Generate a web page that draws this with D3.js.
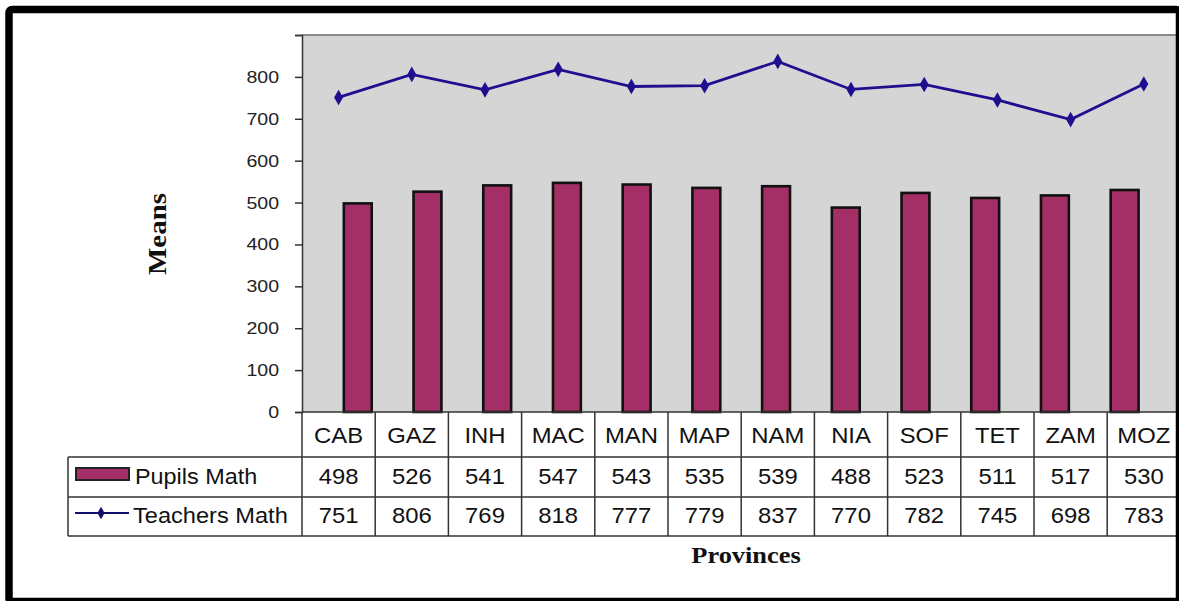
<!DOCTYPE html>
<html>
<head>
<meta charset="utf-8">
<script src="https://cdn.jsdelivr.net/npm/d3@7"></script>
<style>
  html, body { margin: 0; padding: 0; background: #fff; }
  svg { display: block; }
</style>
</head>
<body>
<svg id="chart" width="1179" height="601"></svg>
<script>
// Province codes (columns of the data table)
const provinces = ["CAB", "GAZ", "INH", "MAC", "MAN", "MAP", "NAM", "NIA", "SOF", "TET", "ZAM", "MOZ"];
// Mean mathematics scores
const pupilsMath = [498, 526, 541, 547, 543, 535, 539, 488, 523, 511, 517, 530];
const teachersMath = [751, 806, 769, 818, 777, 779, 837, 770, 782, 745, 698, 783];
// Y axis
const yTicks = [0, 100, 200, 300, 400, 500, 600, 700, 800, 900];
const yTickLabels = ["0", "100", "200", "300", "400", "500", "600", "700", "800", ""];
const seriesNames = ["Pupils Math", "Teachers Math"];
const xTitle = "Provinces";
const yTitle = "Means";

const svg = d3.select("#chart");
const plotLeft = 302, plotTop = 35, plotBottom = 412, colStep = 73.2;
const plotRight = plotLeft + colStep * provinces.length;
const barColor = "#a32f66", lineColor = "#1f0f8f", gridInk = "#333";
const sans = "'Liberation Sans', Arial, sans-serif";
const serif = "'Liberation Serif', 'Times New Roman', serif";

const x = d3.scaleBand().domain(provinces).range([plotLeft, plotRight]).padding(0.6);
const xCol = d3.scaleBand().domain(provinces).range([plotLeft, plotRight]).padding(0);
const y = d3.scaleLinear().domain([0, 900]).range([plotBottom, plotTop]);

// text helper with slight horizontal widening
function label(g, str, px, py, opts) {
  const o = Object.assign({size: 22.5, anchor: "middle", sx: 1.06, family: sans, weight: "normal", fill: "#111"}, opts || {});
  return g.append("text")
    .attr("transform", `translate(${px},${py}) scale(${o.sx},1)`)
    .attr("text-anchor", o.anchor)
    .attr("font-family", o.family)
    .attr("font-size", o.size)
    .attr("font-weight", o.weight)
    .attr("fill", o.fill)
    .text(str);
}

// plot background
svg.append("rect")
  .attr("x", plotLeft).attr("y", plotTop)
  .attr("width", plotRight - plotLeft).attr("height", plotBottom - plotTop)
  .attr("fill", "#d5d5d5");
svg.append("line")
  .attr("x1", plotLeft).attr("x2", plotRight)
  .attr("y1", plotTop).attr("y2", plotTop)
  .attr("stroke", "#8a8a8a").attr("stroke-width", 2);

// bars
svg.append("g").selectAll("rect")
  .data(pupilsMath)
  .join("rect")
  .attr("x", (d, i) => x(provinces[i]))
  .attr("y", d => y(d))
  .attr("width", x.bandwidth())
  .attr("height", d => y(0) - y(d))
  .attr("fill", barColor)
  .attr("stroke", "#111")
  .attr("stroke-width", 2.6);

// teachers line
const cx = (i) => xCol(provinces[i]) + xCol.bandwidth() / 2;
svg.append("path")
  .datum(teachersMath)
  .attr("d", d3.line().x((d, i) => cx(i)).y(d => y(d)))
  .attr("fill", "none")
  .attr("stroke", lineColor)
  .attr("stroke-width", 2.8);
svg.append("g").selectAll("path")
  .data(teachersMath)
  .join("path")
  .attr("transform", (d, i) => `translate(${cx(i)},${y(d)})`)
  .attr("d", d3.symbol(d3.symbolDiamond, 70))
  .attr("fill", lineColor);

// y axis
const yAxis = d3.axisLeft(y).tickValues(yTicks).tickSize(7).tickFormat("");
const ag = svg.append("g").attr("transform", `translate(${plotLeft},0)`).call(yAxis);
ag.select(".domain").attr("stroke", gridInk).attr("stroke-width", 1.5);
ag.selectAll(".tick line").attr("stroke", gridInk).attr("stroke-width", 1.5);
const tl = svg.append("g");
yTicks.forEach((t, i) => {
  if (yTickLabels[i]) label(tl, yTickLabels[i], 279, y(t) + 6, {size: 17, anchor: "end", sx: 1.15, fill: "#222"});
});

// data table
const rowTop = plotBottom, row1 = 457, row2 = 497, row3 = 536, legendLeft = 68;
const tg = svg.append("g").attr("stroke", gridInk).attr("stroke-width", 1.5);
tg.append("line").attr("x1", plotLeft).attr("x2", plotRight).attr("y1", rowTop).attr("y2", rowTop);
[row1, row2, row3].forEach(ry =>
  tg.append("line").attr("x1", legendLeft).attr("x2", plotRight).attr("y1", ry).attr("y2", ry));
tg.append("line").attr("x1", legendLeft).attr("x2", legendLeft).attr("y1", row1).attr("y2", row3);
provinces.forEach(p =>
  tg.append("line").attr("x1", xCol(p)).attr("x2", xCol(p)).attr("y1", rowTop).attr("y2", row3));

const txt = svg.append("g");
provinces.forEach((p, i) => {
  label(txt, p, cx(i), 443);
  label(txt, pupilsMath[i], cx(i), 484);
  label(txt, teachersMath[i], cx(i), 523);
});

// legend keys inside the table
svg.append("rect")
  .attr("x", 76).attr("y", 468).attr("width", 53).attr("height", 12)
  .attr("fill", barColor).attr("stroke", "#222").attr("stroke-width", 2);
label(txt, seriesNames[0], 135, 484, {anchor: "start", sx: 1.04});
svg.append("line")
  .attr("x1", 75).attr("x2", 129).attr("y1", 513).attr("y2", 513)
  .attr("stroke", "#10106a").attr("stroke-width", 2);
svg.append("path")
  .attr("transform", "translate(101,513)")
  .attr("d", d3.symbol(d3.symbolDiamond, 45))
  .attr("fill", "#10106a");
label(txt, seriesNames[1], 133, 523, {anchor: "start", sx: 1.05});

// axis titles
label(svg, xTitle, 746, 563, {size: 24, family: serif, weight: "bold", sx: 1.1});
svg.append("text")
  .attr("transform", "translate(166,234) rotate(-90)")
  .attr("text-anchor", "middle")
  .attr("font-family", serif)
  .attr("font-size", 25)
  .attr("font-weight", "bold")
  .attr("fill", "#111")
  .attr("textLength", 82)
  .attr("lengthAdjust", "spacingAndGlyphs")
  .text(yTitle);

// outer frame
svg.append("rect")
  .attr("x", 9).attr("y", 9.5).attr("width", 1170.5).attr("height", 592)
  .attr("rx", 3)
  .attr("fill", "none").attr("stroke", "#000").attr("stroke-width", 7.5);
</script>
</body>
</html>
